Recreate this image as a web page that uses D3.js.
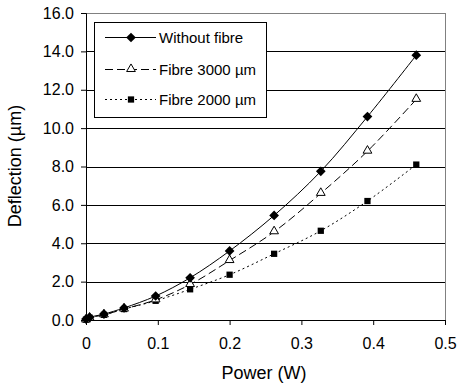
<!DOCTYPE html>
<html>
<head>
<meta charset="utf-8">
<script src="https://cdn.jsdelivr.net/npm/d3@7"></script>
<style>
body { margin: 0; background: #fff; }
text { font-family: "Liberation Sans", Arial, sans-serif; fill: #000; }
</style>
</head>
<body>
<svg id="canvas" width="458" height="390"></svg>
<script>
var width = 458;
var height = 390;

// data
var power = [0, 0.005, 0.025, 0.053, 0.097, 0.145, 0.2, 0.262, 0.327, 0.392, 0.46];
var withoutFibre = [0.05, 0.14, 0.31, 0.63, 1.25, 2.2, 3.6, 5.45, 7.75, 10.6, 13.8];
var fibre3000 = [0.0, 0.1, 0.27, 0.57, 1.05, 1.85, 3.1, 4.6, 6.6, 8.8, 11.5];
var fibre2000 = [0.02, 0.12, 0.27, 0.57, 1.0, 1.6, 2.36, 3.45, 4.65, 6.2, 8.1];
var xTicks = [0, 0.1, 0.2, 0.3, 0.4, 0.5];
var yTicks = [0, 2, 4, 6, 8, 10, 12, 14, 16];

var series = [
  {name: "Without fibre", values: withoutFibre, dash: null, marker: "diamond"},
  {name: "Fibre 3000 \u00b5m", values: fibre3000, dash: "8,4", marker: "triangle"},
  {name: "Fibre 2000 \u00b5m", values: fibre2000, dash: "2,3", marker: "square"}
];

var plotL = 86, plotR = 445, plotT = 13, plotB = 320;

var xScale = d3.scaleLinear().domain([0, 0.5]).range([plotL, plotR]);
var yScale = d3.scaleLinear().domain([0, 16]).range([plotB, plotT]);

var svg = d3.select("#canvas");

// plot border (grey top/right)
svg.append("rect")
  .attr("x", plotL + 0.5).attr("y", plotT + 0.5)
  .attr("width", plotR - plotL).attr("height", plotB - plotT)
  .attr("fill", "none").attr("stroke", "#808080").attr("stroke-width", 1);

// gridlines
svg.append("g").selectAll("line")
  .data(yTicks.slice(1, -1))
  .enter().append("line")
  .attr("x1", plotL).attr("x2", plotR)
  .attr("y1", function(d) { return Math.round(yScale(d)) + 0.5; })
  .attr("y2", function(d) { return Math.round(yScale(d)) + 0.5; })
  .attr("stroke", "#000").attr("stroke-width", 1);

// axes
var xAxis = svg.append("g")
  .attr("transform", "translate(0," + plotB + ")")
  .call(d3.axisBottom(xScale).tickValues(xTicks).tickSize(5).tickPadding(13)
    .tickFormat(function(d) { return d === 0 ? "0" : d3.format(".1f")(d); }));
var yAxis = svg.append("g")
  .attr("transform", "translate(" + plotL + ",0)")
  .call(d3.axisLeft(yScale).tickValues(yTicks).tickSize(5).tickPadding(7)
    .tickFormat(d3.format(".1f")));
[xAxis, yAxis].forEach(function(a) {
  a.select(".domain").attr("stroke", "#000");
  a.selectAll(".tick line").attr("stroke", "#000");
  a.selectAll("text").attr("font-size", 16).attr("font-family", "Liberation Sans, Arial, sans-serif");
});

// axis titles
svg.append("text")
  .attr("x", 264).attr("y", 379)
  .attr("text-anchor", "middle").attr("font-size", 18)
  .text("Power (W)");
svg.append("text")
  .attr("transform", "translate(21,166) rotate(-90)")
  .attr("text-anchor", "middle").attr("font-size", 18)
  .text("Deflection (\u00b5m)");

var line = d3.line()
  .x(function(d, i) { return xScale(power[i]); })
  .y(function(d) { return yScale(d); })
  .curve(d3.curveCatmullRom);

var symbols = {
  diamond: d3.symbol().type(d3.symbolDiamond2).size(60),
  triangle: d3.symbol().type(d3.symbolTriangle2).size(55),
  square: d3.symbol().type(d3.symbolSquare2).size(50)
};

function drawMarker(g, type) {
  if (type === "triangle") {
    g.append("path").attr("d", symbols.triangle()).attr("transform", "translate(0,-0.5)")
      .attr("fill", "#fff").attr("stroke", "#000").attr("stroke-width", 1);
  } else {
    g.append("path").attr("d", symbols[type]()).attr("fill", "#000");
  }
}

// draw series bottom first so solid sits on top
series.slice().reverse().forEach(function(s) {
  svg.append("path")
    .datum(s.values)
    .attr("fill", "none").attr("stroke", "#000").attr("stroke-width", 1)
    .attr("stroke-dasharray", s.dash)
    .attr("d", line);
  svg.append("g").selectAll("g")
    .data(s.values)
    .enter().append("g")
    .attr("transform", function(d, i) { return "translate(" + xScale(power[i]) + "," + yScale(d) + ")"; })
    .each(function() { drawMarker(d3.select(this), s.marker); });
});

// legend
var legend = svg.append("g");
legend.append("rect")
  .attr("x", 94.5).attr("y", 22.5).attr("width", 172).attr("height", 95)
  .attr("fill", "#fff").attr("stroke", "#000").attr("stroke-width", 1);
var rowY = [37, 69, 99];
series.forEach(function(s, i) {
  var g = legend.append("g").attr("transform", "translate(0," + rowY[i] + ")");
  g.append("line").attr("x1", 105).attr("x2", 156).attr("y1", 0.5).attr("y2", 0.5)
    .attr("stroke", "#000").attr("stroke-dasharray", s.dash);
  drawMarker(g.append("g").attr("transform", "translate(131,0.5)"), s.marker);
  g.append("text").attr("x", 159).attr("y", 6).attr("font-size", 15).text(s.name);
});
</script>
</body>
</html>
